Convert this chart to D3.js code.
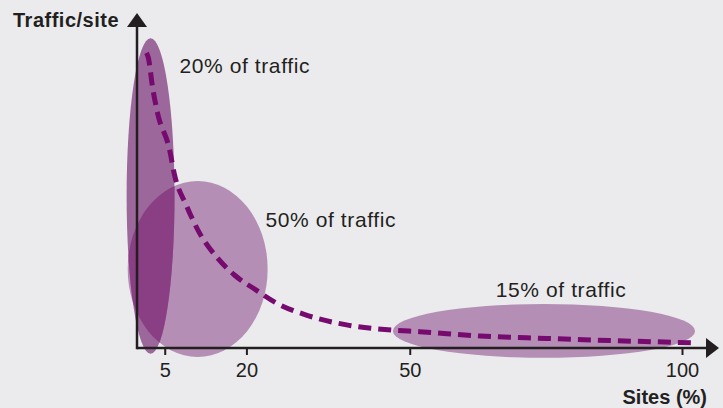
<!DOCTYPE html>
<html>
<head>
<meta charset="utf-8">
<script src="https://cdn.jsdelivr.net/npm/d3@7"></script>
<style>
  html, body { margin: 0; padding: 0; background: #ebebee; }
  svg { display: block; font-family: "Liberation Sans", Arial, sans-serif; }
</style>
</head>
<body>
<main></main>
<script>
// long tail curve (x = sites %, y = traffic/site, arbitrary units)
const curveX = [1.65, 2.0, 2.76, 3.68, 5.9, 6.8, 8.95, 11.4, 14.5, 17.8, 21.8, 25.5, 31.0, 38.4, 46.9, 51.8, 62.9, 75.1, 87.3, 102];
const curveY = [95.8, 94.2, 84.7, 76.3, 64.3, 56.2, 46.4, 37.3, 29.6, 23.7, 18.8, 14.6, 10.7, 7.5, 5.8, 5.3, 3.9, 3.1, 2.4, 1.7];

// traffic clusters (extent in data units)
const clusterNames = ["20% of traffic", "50% of traffic", "15% of traffic"];
const clusterX0 = [-2.0, -1.8, 46.9];
const clusterX1 = [6.8, 23.9, 102.4];
const clusterY0 = [-1.9, -2.9, -3.2];
const clusterY1 = [100.6, 54.2, 14.3];
const labelX = [7.7, 23.5, 65.8];
const labelY = [89.3, 39.3, 16.6];

const xTicks = [5, 20, 50, 100];

const width = 723, height = 408;
const ink = "#231f20";

const x = d3.scaleLinear().domain([0, 100]).range([137.5, 682]);
const y = d3.scaleLinear().domain([0, 100]).range([348, 40]);

const svg = d3.select("main").append("svg")
    .attr("width", width)
    .attr("height", height);

svg.append("rect")
    .attr("width", width)
    .attr("height", height)
    .attr("fill", "#ebebee");

const clusters = clusterNames.map((name, i) => ({
    name: name,
    cx: (x(clusterX0[i]) + x(clusterX1[i])) / 2,
    cy: (y(clusterY0[i]) + y(clusterY1[i])) / 2,
    rx: Math.abs(x(clusterX1[i]) - x(clusterX0[i])) / 2,
    ry: Math.abs(y(clusterY0[i]) - y(clusterY1[i])) / 2,
    lx: x(labelX[i]),
    ly: y(labelY[i])
}));

const fills = ["#9c689c", "#b48eb5", "#b48eb5"];

// clip for the overlap of the tall and the round cluster
svg.append("clipPath").attr("id", "clip-mid")
  .append("ellipse")
    .attr("cx", clusters[1].cx).attr("cy", clusters[1].cy)
    .attr("rx", clusters[1].rx).attr("ry", clusters[1].ry);

const blobs = svg.append("g").attr("id", "clusters");
blobs.selectAll("ellipse.cluster")
    .data([clusters[2], clusters[1], clusters[0]])
    .join("ellipse")
    .attr("class", "cluster")
    .attr("cx", d => d.cx)
    .attr("cy", d => d.cy)
    .attr("rx", d => d.rx)
    .attr("ry", d => d.ry)
    .attr("fill", d => fills[clusterNames.indexOf(d.name)]);

blobs.append("ellipse")
    .attr("clip-path", "url(#clip-mid)")
    .attr("cx", clusters[0].cx).attr("cy", clusters[0].cy)
    .attr("rx", clusters[0].rx).attr("ry", clusters[0].ry)
    .attr("fill", "#8a3e83");

// axes
const axisG = svg.append("g").attr("id", "axes");
const x0 = x(0) - 0.5, y0 = y(0);

const xAxis = axisG.append("g")
    .attr("transform", "translate(0," + y0 + ")")
    .call(d3.axisBottom(x).tickValues(xTicks).tickSize(7).tickFormat(d3.format("d")));
xAxis.select(".domain").remove();
xAxis.selectAll(".tick line").attr("stroke", ink).attr("stroke-width", 2);
xAxis.selectAll(".tick text")
    .attr("fill", ink)
    .attr("font-size", 20)
    .attr("y", 29)
    .attr("dy", 0);

axisG.append("line")
    .attr("x1", x0).attr("x2", 707)
    .attr("y1", y0).attr("y2", y0)
    .attr("stroke", ink).attr("stroke-width", 2.5);
axisG.append("path")
    .attr("d", `M706,${y0 - 10}L719,${y0}L706,${y0 + 10}Z`)
    .attr("fill", ink);

axisG.append("line")
    .attr("x1", x0).attr("x2", x0)
    .attr("y1", y0 + 1.2).attr("y2", 26)
    .attr("stroke", ink).attr("stroke-width", 2.5);
axisG.append("path")
    .attr("d", `M${x0 - 10},27L${x0},13L${x0 + 10},27Z`)
    .attr("fill", ink);

axisG.append("text")
    .attr("x", 13).attr("y", 27)
    .attr("font-size", 20).attr("font-weight", "bold")
    .attr("letter-spacing", 0.5)
    .attr("fill", ink)
    .text("Traffic/site");

axisG.append("text")
    .attr("x", 707).attr("y", 404)
    .attr("text-anchor", "end")
    .attr("font-size", 20).attr("font-weight", "bold")
    .attr("letter-spacing", 0)
    .attr("fill", ink)
    .text("Sites (%)");

// dashed long tail
const line = d3.line()
    .x(d => x(d[0]))
    .y(d => y(d[1]))
    .curve(d3.curveMonotoneX);

svg.append("path")
    .attr("d", line(curveX.map((v, i) => [v, curveY[i]])))
    .attr("fill", "none")
    .attr("stroke", "#760a6f")
    .attr("stroke-width", 5)
    .attr("stroke-dasharray", "13,7");

// cluster labels
svg.append("g").selectAll("text")
    .data(clusters)
    .join("text")
    .attr("x", d => d.lx)
    .attr("y", d => d.ly)
    .attr("font-size", 21)
    .attr("letter-spacing", 0.6)
    .attr("fill", ink)
    .text(d => d.name);
</script>
</body>
</html>
